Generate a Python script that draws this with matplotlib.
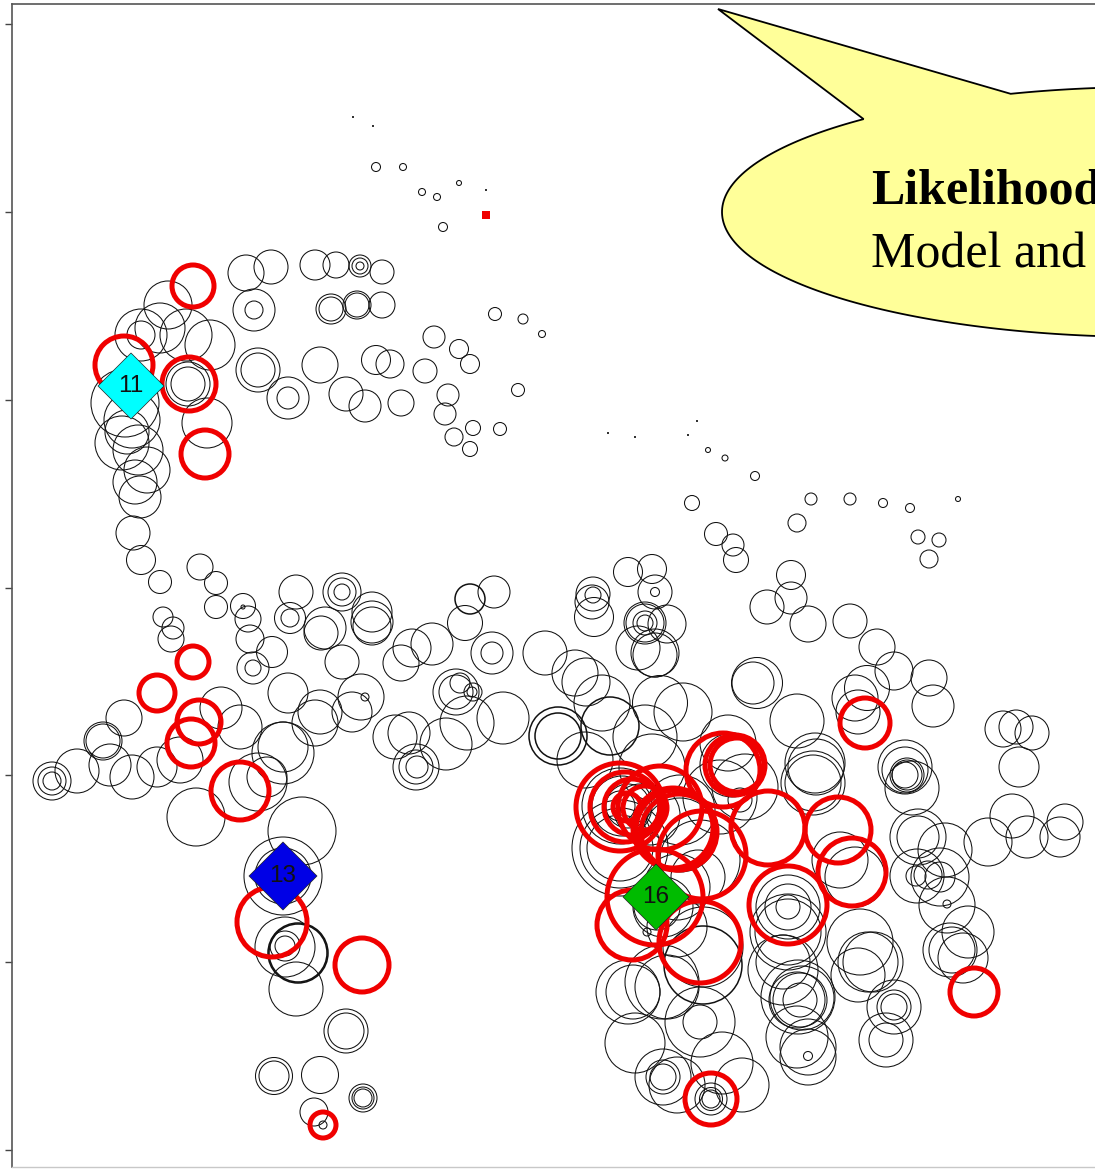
import matplotlib
matplotlib.use('Agg')
import matplotlib.pyplot as plt
import numpy as np
from matplotlib.patches import Circle, Polygon

W, H = 1095, 1169

# thin black circles: x, y, radius
black_x = [246, 271, 315, 336, 360, 360, 360, 254, 254, 331, 331, 357, 357, 382, 382,
           168, 160, 141, 141, 186, 210, 258, 258, 320, 288, 288, 346, 376, 390, 425,
           434, 459, 470, 495, 523, 542, 518, 401, 365, 448, 445, 473, 500, 454, 470,
           376, 403, 422, 437, 459, 443, 708, 725, 755, 811, 850, 883, 910, 958, 797,
           918, 939, 929, 791, 791, 767, 808, 850, 877, 894, 867, 855, 858, 929, 933,
           797, 1003, 1016, 1032, 1019, 753, 757, 692, 716, 733, 736, 628, 652, 655, 655,
           593, 593, 592, 594, 645, 645, 645, 645, 667, 638, 655, 655, 372, 372, 372,
           401, 412, 432, 465, 494, 492, 492, 545, 575, 586, 602, 660, 683,
           456, 456, 460, 473, 472, 503, 467, 446, 395, 409, 416, 416, 417,
           361, 365, 125, 132, 122, 127, 138, 147, 135, 140, 133, 141, 160, 200, 216,
           216, 243, 243, 248, 250, 272, 253, 253, 296, 290, 290, 342, 342, 342, 325,
           321, 342, 163, 173, 171, 288, 320, 315, 352, 124, 103, 103, 221, 240, 283,
           283, 267, 180, 157, 52, 52, 52, 77, 110, 132, 207, 188, 188,
           196, 258, 302, 283, 283, 285, 285, 285, 296, 346, 346, 274, 274, 320, 314,
           323, 363, 363, 363]
black_y = [273, 267, 265, 265, 266, 266, 266, 310, 310, 309, 309, 305, 305, 272, 305,
           305, 328, 335, 335, 335, 345, 370, 370, 365, 398, 398, 394, 360, 364, 371,
           337, 349, 364, 314, 319, 334, 390, 403, 406, 395, 414, 428, 429, 437, 449,
           167, 167, 192, 197, 183, 227, 450, 458, 476, 499, 499, 503, 508, 499, 523,
           537, 540, 559, 575, 598, 607, 624, 621, 647, 671, 688, 698, 712, 678, 706,
           721, 729, 727, 733, 767, 683, 683, 503, 534, 545, 560, 572, 569, 592, 592,
           594, 595, 602, 617, 623, 623, 623, 623, 624, 648, 653, 655, 612, 626, 622,
           663, 648, 644, 623, 592, 653, 653, 653, 673, 682, 703, 703, 712,
           692, 692, 683, 692, 692, 718, 723, 744, 737, 733, 767, 767, 767,
           697, 697, 403, 420, 443, 432, 450, 470, 482, 497, 533, 560, 582, 567, 583,
           607, 606, 607, 619, 639, 652, 668, 668, 592, 618, 618, 592, 592, 592, 628,
           633, 662, 617, 628, 639, 693, 712, 723, 712, 718, 741, 741, 708, 727, 747,
           753, 777, 760, 767, 781, 781, 781, 771, 765, 777, 423, 384, 384,
           817, 782, 831, 876, 876, 947, 946, 946, 989, 1031, 1031, 1076, 1076, 1075, 1112,
           1125, 1098, 1098, 1098]
black_r = [18, 17, 15, 13, 11, 8, 4, 21, 9, 15, 12, 14, 12, 12, 13,
           24, 25, 26, 14, 26, 25, 22, 17, 18, 21, 11, 17, 14.5, 14, 12,
           11, 9.5, 9.5, 6.5, 5, 3.5, 6.5, 13, 16, 11, 11, 7.5, 6.5, 9, 7.5,
           4.5, 3.5, 3.5, 3.5, 2.5, 4.5, 2.5, 3, 4.5, 6, 6, 4.5, 4.5, 2.5, 9,
           7, 7, 9, 14.5, 16, 17, 18, 17, 18, 19, 22.5, 23, 22, 18, 21,
           27, 18, 17, 17, 20, 21, 25.5, 7.5, 11.5, 11, 12.5, 14.5, 14.5, 17, 4.5,
           17, 8, 17, 19.5, 21, 19, 12, 8, 19, 22, 24, 22, 20, 19, 21,
           18, 19, 21, 17.5, 16, 21, 11, 22, 23, 24, 28, 27.5, 29,
           23, 17, 10, 9, 5, 26, 27, 26, 22, 21, 23, 17, 11,
           23, 4, 34, 28, 27, 22, 25, 23, 22, 21, 17, 14.5, 11.5, 13, 11.5,
           11.5, 12.5, 2, 13, 14, 15.5, 16, 8, 17, 15.5, 9, 19, 14, 8, 21,
           17, 17, 10, 11, 13, 20, 22, 23, 20, 18, 19, 17, 21, 22, 25,
           31, 20, 23, 20, 19, 14, 9, 22, 21, 22, 25, 22, 17,
           29, 29, 34, 39, 28, 30, 15, 10, 27, 22, 18, 18.5, 15, 18.5, 14,
           4, 14, 11, 9]

# right hand cluster, kept apart since it is the dense one
cluster_x = [620, 620, 620, 620, 585, 652, 645, 728, 732, 740, 745, 720, 622, 628, 620,
             640, 650, 680, 680, 700, 698, 677, 663, 657, 677, 703, 815, 816, 813, 813,
             905, 905, 907, 907, 905, 912, 918, 918, 945, 917, 916, 940, 940, 928, 947,
             947, 968, 950, 952, 963, 988, 1012, 1027, 1065, 1060, 868, 873, 860, 858, 894,
             894, 894, 886, 886, 788, 788, 783, 783, 798, 797, 800, 800, 802, 797, 808,
             808, 808, 628, 633, 662, 667, 700, 700, 635, 663, 663, 663, 677, 722, 742,
             711, 711, 711, 647, 788, 788, 788, 840, 855]
cluster_y = [848, 848, 848, 806, 760, 767, 737, 743, 765, 800, 787, 797, 806, 806, 806,
             810, 815, 810, 835, 860, 877, 887, 907, 907, 927, 947, 763, 767, 783, 783,
             767, 770, 775, 775, 775, 788, 837, 837, 850, 876, 876, 877, 877, 875, 905,
             904, 932, 950, 950, 958, 842, 816, 837, 822, 837, 962, 962, 942, 975, 1007,
             1007, 1007, 1040, 1040, 932, 932, 962, 970, 997, 1000, 1000, 1000, 998, 1037, 1057,
             1047, 1056, 992, 992, 982, 987, 1022, 1022, 1043, 1077, 1077, 1077, 1085, 1063, 1085,
             1099, 1099, 1099, 932, 907, 907, 907, 860, 877]
cluster_r = [48, 40, 33, 38, 28, 33, 32, 28, 32, 12, 33, 37, 30, 22, 15,
             26, 30, 35, 37, 40, 27, 33, 30, 23, 30, 40, 30, 28, 28, 32,
             27, 23, 17, 15, 13, 27, 28, 21, 27, 27, 10, 29, 15, 14, 28,
             4, 26, 27, 23, 25, 24, 22, 21, 18, 20, 30, 30, 33, 27, 27,
             17, 13, 27, 17, 33, 38, 27, 35, 37, 28, 27, 17, 32, 31, 28,
             28, 4.5, 32, 27, 37, 32, 17, 35, 30, 28, 17, 13, 28, 31, 27,
             16, 11.5, 9, 4, 12, 23, 32, 28, 30]

# heavier black rings
bold_x = [470, 298, 298, 558, 558, 610, 703]
bold_y = [599, 953, 953, 736, 736, 726, 965]
bold_r = [15, 30, 29, 29, 23, 29, 39]

# tiny specks
dot_x = [353, 373, 486, 608, 635, 688, 697]
dot_y = [117, 126, 190, 433, 437, 435, 421]

# red circles
red_x = [193, 124, 189, 205, 193, 157, 199, 191, 240, 272, 362, 323,
         620, 625, 632, 627, 645, 660, 673, 676, 679, 702, 723, 737, 735,
         768, 838, 852, 788, 655, 632, 700, 865, 974, 711]
red_y = [286, 365, 384, 454, 662, 693, 722, 743, 791, 922, 965, 1125,
         807, 807, 807, 807, 808, 808, 828, 830, 832, 855, 770, 765, 765,
         828, 830, 872, 905, 897, 925, 942, 723, 992, 1099]
red_r = [21, 29, 27, 24, 16, 18, 22, 24, 29, 35, 27, 13,
         44, 35, 28, 14, 22, 42, 40, 40, 38, 44, 37, 27, 30,
         37, 33, 34, 39, 48, 35, 41, 25, 24, 26]

red_square = (486, 215)

# highlighted points
diamond_labels = ['11', '13', '16']
diamond_x = [131, 283, 656]
diamond_y = [386, 876, 897]
diamond_colors = ['#00ffff', '#0000e6', '#00bb00']
diamond_s = [1130, 1200, 1130]

tick_pos = [24, 212, 400, 588, 775, 962, 1150]

fig = plt.figure(figsize=(W / 100, H / 100), dpi=100, facecolor='white')
ax = fig.add_axes([12 / W, (H - 1167) / H, 1 - 12 / W, (1167 - 4) / H])
ax.set_xlim(12, W)
ax.set_ylim(1167, 4)

for s in ['left', 'top']:
    ax.spines[s].set_color('#555555')
    ax.spines[s].set_linewidth(1.2)
ax.spines['bottom'].set_color('#c8c8c8')
ax.spines['bottom'].set_linewidth(1.0)
ax.spines['right'].set_visible(False)
ax.set_xticks([])
ax.set_yticks(tick_pos)
ax.set_yticklabels([])
ax.tick_params(axis='y', length=5, width=1, color='#444444')


def rings(xs, ys, rs, color, lw, z):
    for x, y, r in zip(xs, ys, rs):
        ax.add_patch(Circle((x, y), r, fc='none', ec=color, lw=lw, zorder=z))


rings(black_x, black_y, black_r, '#111111', 0.75, 2)
rings(cluster_x, cluster_y, cluster_r, '#111111', 0.75, 2)
rings(bold_x, bold_y, bold_r, '#111111', 1.1, 2)
ax.scatter(dot_x, dot_y, s=1.5, c='#333333', marker='s', linewidths=0, zorder=2)
rings(red_x, red_y, red_r, '#f00000', 3.6, 3)
ax.scatter([red_square[0]], [red_square[1]], s=26, c='#f00000', marker='s', linewidths=0, zorder=3)

ax.scatter(diamond_x, diamond_y, s=diamond_s, c=diamond_colors, marker='D', edgecolors='#222222',
           linewidths=0.5, zorder=4)
for lab, x, y in zip(diamond_labels, diamond_x, diamond_y):
    ax.text(x, y, lab, ha='center', va='center', fontsize=17.5, color='#111111',
            family='Liberation Sans', zorder=5)

# speech bubble
t = np.radians(np.linspace(251, 588, 300))
bub_x = 1150 + 428 * np.cos(t)
bub_y = 212 + 125 * np.sin(t)
bub = np.column_stack([np.r_[718, bub_x], np.r_[9, bub_y]])
ax.add_patch(Polygon(bub, closed=True, fc='#ffff99', ec='black', lw=1.3, zorder=6))
ax.text(871, 203, 'Likelihood', fontsize=36, fontweight='bold', family='Liberation Serif',
        color='black', zorder=7, clip_on=True)
ax.text(871, 267, 'Model and', fontsize=36, family='Liberation Serif',
        color='black', zorder=7, clip_on=True)

fig.savefig('out.png', dpi=100)
